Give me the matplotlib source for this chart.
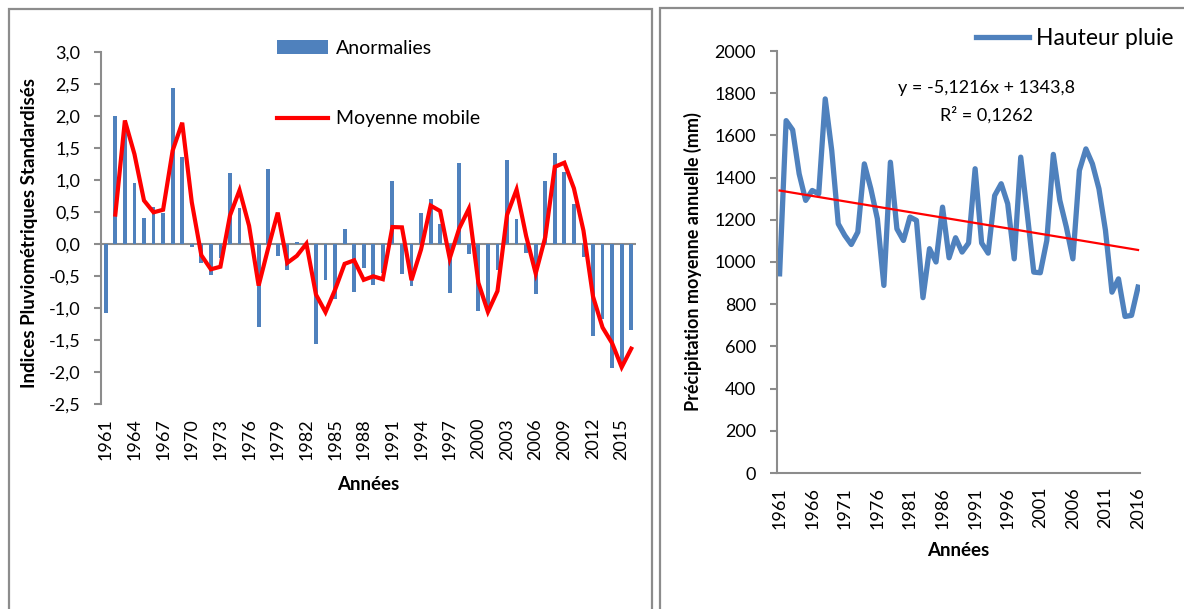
import numpy as np
import pandas as pd
import matplotlib
matplotlib.use("Agg")
import matplotlib.pyplot as plt
from matplotlib.patches import Rectangle
from matplotlib.ticker import FuncFormatter, MultipleLocator

plt.rcParams['font.family'] = ['Lato', 'DejaVu Sans']

# ---------------- data ----------------
years = list(range(1961, 2017))
anomalies = [-1.08, 2.00, 1.86, 0.95, 0.41, 0.58, 0.49, 2.43, 1.36, -0.05,
             -0.30, -0.49, -0.22, 1.11, 0.57, 0.00, -1.30, 1.17, -0.19, -0.40,
             0.03, -0.02, -1.56, -0.57, -0.86, 0.24, -0.75, -0.37, -0.64, -0.46,
             0.99, -0.47, -0.66, 0.49, 0.71, 0.32, -0.77, 1.26, -0.16, -1.05,
             -1.07, -0.40, 1.31, 0.39, -0.14, -0.78, 0.99, 1.42, 1.12, 0.62,
             -0.20, -1.44, -1.17, -1.93, -1.92, -1.35]
rain_mm = [944, 1670, 1626, 1418, 1292, 1339, 1323, 1773, 1528, 1181,
           1126, 1083, 1142, 1465, 1347, 1205, 889, 1473, 1157, 1102,
           1213, 1197, 831, 1063, 1000, 1260, 1020, 1115, 1047, 1090,
           1442, 1090, 1042, 1315, 1371, 1276, 1015, 1497, 1228, 952,
           949, 1102, 1510, 1292, 1165, 1015, 1434, 1536, 1465, 1347,
           1150, 857, 920, 742, 747, 881]
trend_slope = -5.1216
trend_intercept = 1343.8
trend_r2 = 0.1262
left_xticks = list(range(1961, 2017, 3))
right_xticks = list(range(1961, 2017, 5))

W, H = 1184, 609
fig = plt.figure(figsize=(W / 100, H / 100), dpi=100)

def fx(px):
    return px / W

def fy(py):
    return 1 - py / H

BLUE = '#4F81BD'
GRAY = '#8C8C8C'

# panel frames
fig.patches.append(Rectangle((fx(9), fy(620)), fx(652) - fx(9), fy(9) - fy(620),
                             transform=fig.transFigure, fill=False, ec=GRAY, lw=1.6))
fig.patches.append(Rectangle((fx(660), fy(620)), fx(1200) - fx(660), fy(8) - fy(620),
                             transform=fig.transFigure, fill=False, ec=GRAY, lw=1.6))

# ---------------- left chart ----------------
axL = fig.add_axes([fx(101), fy(404), fx(636) - fx(101), fy(52) - fy(404)])
xs = np.arange(len(years))
bars = axL.bar(xs, anomalies, width=0.4, color=BLUE, label='Anormalies', zorder=2)
mm = pd.Series(anomalies).rolling(2).mean()
line_mm, = axL.plot(xs, mm, color='#FF0000', lw=3.0, label='Moyenne mobile', zorder=3,
                    solid_joinstyle='miter')
axL.axhline(0, color=GRAY, lw=1.5, zorder=1)
axL.set_xlim(-0.5, len(years) - 0.5)
axL.set_ylim(-2.5, 3.0)
axL.yaxis.set_major_locator(MultipleLocator(0.5))
axL.yaxis.set_major_formatter(FuncFormatter(lambda v, p: f"{v:.1f}".replace('.', ',')))
for s in ['top', 'right', 'bottom']:
    axL.spines[s].set_visible(False)
axL.spines['left'].set_color(GRAY)
axL.spines['left'].set_linewidth(1.5)
axL.tick_params(axis='y', direction='out', length=5, width=1.5, color=GRAY,
                labelsize=13, pad=10)
axL.set_xticks([years.index(y) for y in left_xticks])
axL.set_xticklabels([str(y) for y in left_xticks], rotation=90)
axL.tick_params(axis='x', length=0, labelsize=13, pad=10)
fig.text(fx(30), fy(233), 'Indices Pluviométriques Standardisés', rotation=90,
         fontsize=13.5, fontweight='bold', ha='center', va='center')
fig.text(fx(368), fy(485), 'Années', fontsize=13.5, fontweight='bold',
         ha='center', va='center')
fig.legend(handles=[bars, line_mm], loc='upper left',
           bbox_to_anchor=(fx(277), fy(40)), frameon=False, fontsize=14,
           handlelength=2.6, handletextpad=0.45, labelspacing=2.75,
           borderpad=0, borderaxespad=0)

# ---------------- right chart ----------------
axR = fig.add_axes([fx(777), fy(473), fx(1140) - fx(777), fy(51) - fy(473)])
line_rain, = axR.plot(years, rain_mm, color=BLUE, lw=3.8, label='Hauteur pluie',
                      zorder=2)
idx = np.arange(1, len(years) + 1)
axR.plot(years, trend_slope * idx + trend_intercept, color='#FF0000', lw=1.6, zorder=3)
axR.set_xlim(1960.6, 2016.3)
axR.set_ylim(0, 2000)
axR.yaxis.set_major_locator(MultipleLocator(200))
for s in ['top', 'right']:
    axR.spines[s].set_visible(False)
for s in ['left', 'bottom']:
    axR.spines[s].set_color(GRAY)
    axR.spines[s].set_linewidth(1.5)
axR.tick_params(axis='y', direction='out', length=5, width=1.5, color=GRAY,
                labelsize=13, pad=10)
axR.set_xticks(right_xticks)
axR.set_xticklabels([str(y) for y in right_xticks], rotation=90)
axR.tick_params(axis='x', length=0, labelsize=13, pad=10)
fig.text(fx(693), fy(262), 'Précipitation moyenne annuelle (mm)', rotation=90,
         fontsize=13, fontweight='bold', ha='center', va='center')
fig.text(fx(958), fy(550), 'Années', fontsize=13.5, fontweight='bold',
         ha='center', va='center')
eq = f"y = {trend_slope:.4f}x + {trend_intercept:.1f}".replace('.', ',')
fig.text(fx(986), fy(88), eq, fontsize=13, ha='center', va='center')
fig.text(fx(986), fy(115), f"R² = {trend_r2:.4f}".replace('.', ','), fontsize=13,
         ha='center', va='center')
fig.legend(handles=[line_rain], loc='upper left', bbox_to_anchor=(fx(976), fy(28)),
           frameon=False, fontsize=16.5, handlelength=2.3, handletextpad=0.3,
           borderpad=0, borderaxespad=0)

fig.savefig('out.png', dpi=100, facecolor='white')
